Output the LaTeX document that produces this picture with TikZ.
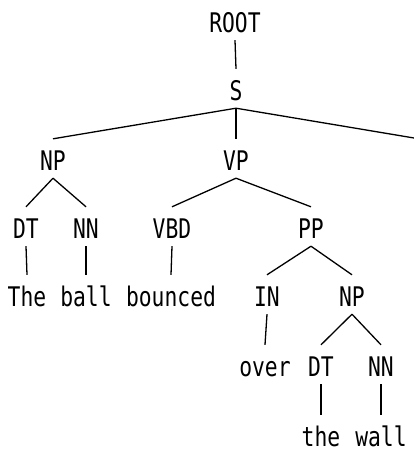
\documentclass[tikz,border=0pt]{standalone}
\usepackage{fontspec}
\newfontfamily\treefont[FakeStretch=0.79]{DejaVu Sans Mono}
\begin{document}
\begin{tikzpicture}[x=1pt,y=-1pt,
  tnode/.style={anchor=base,font=\treefont\fontsize{27}{30}\selectfont,
    text height=23pt,text depth=0pt,inner ysep=8pt,inner xsep=0pt},
  edge/.style={line width=1.3pt,black}]
\clip (0,0) rectangle (414,451);
% row 1
\node[tnode] (root) at (235,32) {ROOT};
% row 2
\node[tnode] (s) at (236,100) {S};
% row 3
\node[tnode] (np1) at (53,170) {NP};
\node[tnode] (vp) at (236,170) {VP};
\coordinate (sr) at (420,139);
% row 4
\node[tnode] (dt1) at (26,238) {DT};
\node[tnode] (nn1) at (86,238) {NN};
\node[tnode] (vbd) at (172,238) {VBD};
\node[tnode] (pp) at (311,238) {PP};
% row 5
\node[tnode] (the1) at (27,306) {The};
\node[tnode] (ball) at (86,306) {ball};
\node[tnode] (bounced) at (171,306) {bounced};
\node[tnode] (in) at (267,306) {IN};
\node[tnode] (np2) at (352,306) {NP};
% row 6
\node[tnode] (over) at (265,376) {over};
\node[tnode] (dt2) at (321,376) {DT};
\node[tnode] (nn2) at (381,376) {NN};
% row 7
\node[tnode] (the2) at (321,446) {the};
\node[tnode] (wall) at (381,446) {wall};
% edges
\draw[edge] (root.south) -- (s.north);
\draw[edge] (s.south) -- (np1.north);
\draw[edge] (s.south) -- (vp.north);
\draw[edge] (s.south) -- (sr);
\draw[edge] (np1.south) -- (dt1.north);
\draw[edge] (np1.south) -- (nn1.north);
\draw[edge] (vp.south) -- (vbd.north);
\draw[edge] (vp.south) -- (pp.north);
\draw[edge] (dt1.south) -- (the1.north);
\draw[edge] (nn1.south) -- (ball.north);
\draw[edge] (vbd.south) -- (bounced.north);
\draw[edge] (pp.south) -- (in.north);
\draw[edge] (pp.south) -- (np2.north);
\draw[edge] (in.south) -- (over.north);
\draw[edge] (np2.south) -- (dt2.north);
\draw[edge] (np2.south) -- (nn2.north);
\draw[edge] (dt2.south) -- (the2.north);
\draw[edge] (nn2.south) -- (wall.north);
\end{tikzpicture}
\end{document}
